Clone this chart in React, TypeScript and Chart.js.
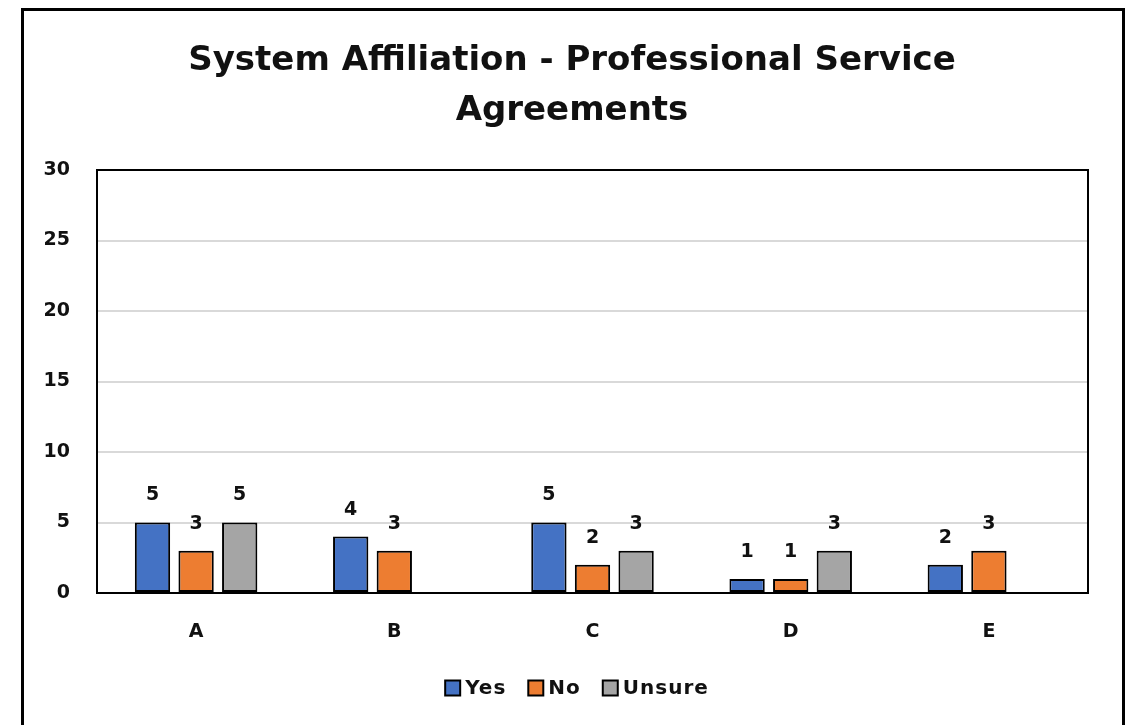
import React, { useEffect, useRef } from "react";
import { Chart, registerables } from "chart.js";

Chart.register(...registerables);

const titleLines = ["System Affiliation - Professional Service", "Agreements"];
const categories = ["A", "B", "C", "D", "E"];
const seriesNames = ["Yes", "No", "Unsure"];
const yesValues: (number | null)[] = [5, 4, 5, 1, 2];
const noValues: (number | null)[] = [3, 3, 2, 1, 3];
const unsureValues: (number | null)[] = [5, null, 3, 3, null];
const seriesColors = ["#4472C4", "#ED7D31", "#A5A5A5"];
const yMin = 0;
const yMax = 30;
const yStep = 5;

const FONT = "'DejaVu Sans', sans-serif";

const framePlugin = {
  id: "frame",
  beforeDraw(chart: any) {
    const { ctx } = chart;
    ctx.save();
    ctx.fillStyle = "#ffffff";
    ctx.fillRect(0, 0, chart.width, chart.height);
    ctx.strokeStyle = "#000000";
    ctx.lineWidth = 3;
    ctx.strokeRect(22.5, 9.5, 1101, 740);
    // title
    ctx.fillStyle = "#111111";
    ctx.font = `bold 34px ${FONT}`;
    ctx.textAlign = "center";
    ctx.textBaseline = "middle";
    titleLines.forEach((line, i) => {
      ctx.fillText(line, 572, 61 + i * 50);
    });
    ctx.restore();
  },
  afterDatasetsDraw(chart: any) {
    const { ctx, chartArea } = chart;
    ctx.save();
    ctx.strokeStyle = "#000000";
    ctx.lineWidth = 2;
    ctx.strokeRect(chartArea.left, chartArea.top, chartArea.right - chartArea.left, chartArea.bottom - chartArea.top);
    // data labels
    ctx.fillStyle = "#111111";
    ctx.font = `bold 19px ${FONT}`;
    ctx.textAlign = "center";
    ctx.textBaseline = "middle";
    chart.data.datasets.forEach((ds: any, di: number) => {
      const meta = chart.getDatasetMeta(di);
      meta.data.forEach((el: any, i: number) => {
        const v = ds.data[i];
        if (v === null || v === undefined) return;
        ctx.fillText(String(v), el.x, el.y - 27);
      });
    });
    // legend
    const box = 15;
    const gapBoxText = 5;
    const gapItems = 22;
    ctx.font = `bold 20px ${FONT}`;
    (ctx as any).letterSpacing = "1px";
    ctx.textAlign = "left";
    const widths = chart.data.datasets.map((ds: any) => box + gapBoxText + ctx.measureText(ds.label).width);
    const total = widths.reduce((a: number, b: number) => a + b, 0) + gapItems * (widths.length - 1);
    let x = 577 - total / 2;
    const cy = 688;
    chart.data.datasets.forEach((ds: any, di: number) => {
      ctx.fillStyle = ds.backgroundColor;
      ctx.fillRect(x, cy - box / 2, box, box);
      ctx.strokeStyle = "#000000";
      ctx.lineWidth = 2;
      ctx.strokeRect(x, cy - box / 2, box, box);
      ctx.fillStyle = "#111111";
      ctx.fillText(ds.label, x + box + gapBoxText, cy + 1);
      x += widths[di] + gapItems;
    });
    ctx.restore();
  },
};

export default function App() {
  const canvasRef = useRef<HTMLCanvasElement | null>(null);

  useEffect(() => {
    const canvas = canvasRef.current;
    if (!canvas) return;
    const seriesData = [yesValues, noValues, unsureValues];
    const chart = new Chart(canvas, {
      type: "bar",
      data: {
        labels: categories,
        datasets: seriesNames.map((name, i) => ({
          label: name,
          data: seriesData[i],
          backgroundColor: seriesColors[i],
          borderColor: "#000000",
          borderWidth: 2,
          borderSkipped: false,
          categoryPercentage: 0.66,
          barPercentage: 0.81,
        })),
      },
      options: {
        responsive: false,
        animation: false,
        devicePixelRatio: 1,
        layout: { padding: { top: 170, left: 30, right: 42, bottom: 52 } },
        plugins: {
          legend: { display: false },
          title: { display: false },
          tooltip: { enabled: false },
        },
        scales: {
          x: {
            grid: { display: false },
            border: { display: false },
            ticks: {
              color: "#111111",
              font: { family: FONT, size: 19, weight: "bold" },
              padding: 20,
            },
            afterFit: (s: any) => {
              s.height = 80;
            },
          },
          y: {
            min: yMin,
            max: yMax,
            ticks: {
              stepSize: yStep,
              color: "#111111",
              font: { family: FONT, size: 19, weight: "bold" },
              padding: 27,
            },
            grid: { color: "#d9d9d9", lineWidth: 2, drawTicks: false },
            border: { display: false },
            afterFit: (s: any) => {
              s.width = 67;
            },
          },
        },
      },
      plugins: [framePlugin],
    });
    return () => chart.destroy();
  }, []);

  return (
    <div style={{ position: "fixed", left: 0, top: 0, width: 1130, height: 725, background: "#fff" }}>
      <canvas ref={canvasRef} width={1130} height={725} style={{ width: 1130, height: 725, display: "block" }} />
    </div>
  );
}
